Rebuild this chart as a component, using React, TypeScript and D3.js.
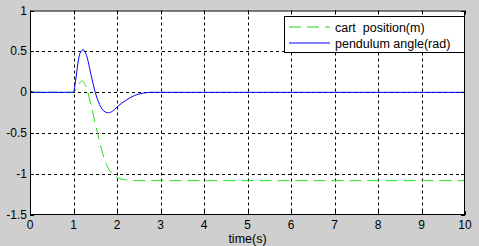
import { useEffect, useRef } from "react";
import * as d3 from "d3";

const W = 479;
const H = 246;
const MARGIN = { top: 10.5, right: 14, bottom: 31, left: 30 };

const xTicks = [0, 1, 2, 3, 4, 5, 6, 7, 8, 9, 10];
const yTicks = [-1.5, -1, -0.5, 0, 0.5, 1];

// pendulum angle (rad)
const pendTime = [0, 0.1, 0.3, 0.6, 0.9, 1.0, 1.05, 1.1, 1.15, 1.22, 1.3, 1.4, 1.5, 1.6, 1.7, 1.8, 1.9, 2.0, 2.2, 2.4, 2.6, 2.8, 4, 6, 8, 10];
const pendValue = [0.02, 0.0, 0.0, 0.0, 0.0, 0.0, 0.15, 0.35, 0.48, 0.52, 0.45, 0.22, 0.0, -0.15, -0.23, -0.25, -0.23, -0.18, -0.1, -0.04, -0.01, 0, 0, 0, 0, 0];

// cart position (m)
const cartTime = [0, 0.1, 0.3, 0.6, 0.9, 1.0, 1.1, 1.2, 1.3, 1.4, 1.5, 1.6, 1.7, 1.8, 1.9, 2.0, 2.2, 2.5, 4, 6, 8, 10];
const cartValue = [0.02, 0.0, 0.0, 0.0, 0.0, 0.0, 0.08, 0.14, 0.05, -0.15, -0.38, -0.6, -0.8, -0.93, -1.0, -1.04, -1.07, -1.08, -1.08, -1.08, -1.08, -1.08];

const series = [
  { name: "cart  position(m)", t: cartTime, v: cartValue, color: "#22dd22", dash: "12,6" },
  { name: "pendulum angle(rad)", t: pendTime, v: pendValue, color: "#0000ff", dash: null },
];

const FONT = "Arial, 'Liberation Sans', sans-serif";

const App = () => {
  const ref = useRef(null);

  useEffect(() => {
    const svg = d3.select(ref.current);
    svg.selectAll("*").remove();

    const bw = W - MARGIN.left - MARGIN.right;
    const bh = H - MARGIN.top - MARGIN.bottom;

    const x = d3.scaleLinear().domain([0, 10]).range([MARGIN.left, MARGIN.left + bw]);
    const y = d3.scaleLinear().domain([-1.5, 1]).range([MARGIN.top + bh, MARGIN.top]);

    svg.append("rect").attr("width", W).attr("height", H).attr("fill", "#cfcfcf");
    svg
      .append("rect")
      .attr("x", MARGIN.left)
      .attr("y", MARGIN.top)
      .attr("width", bw)
      .attr("height", bh)
      .attr("fill", "#ffffff");

    // grid
    const grid = svg.append("g").attr("stroke", "#000").attr("stroke-width", 1).attr("stroke-dasharray", "3,3");
    xTicks.slice(1, -1).forEach((t) => {
      grid
        .append("line")
        .attr("x1", Math.round(x(t)) + 0.5)
        .attr("x2", Math.round(x(t)) + 0.5)
        .attr("y1", MARGIN.top)
        .attr("y2", MARGIN.top + bh);
    });
    yTicks.slice(1, -1).forEach((t) => {
      grid
        .append("line")
        .attr("x1", MARGIN.left)
        .attr("x2", MARGIN.left + bw)
        .attr("y1", Math.round(y(t)) + 0.5)
        .attr("y2", Math.round(y(t)) + 0.5);
    });

    // lines
    const plot = svg.append("g");
    series.forEach((s) => {
      const pts = s.t.map((t, i) => [t, s.v[i]] as [number, number]);
      const line = d3
        .line<[number, number]>()
        .x((d) => x(d[0]))
        .y((d) => y(d[1]))
        .curve(d3.curveMonotoneX);
      const p = plot
        .append("path")
        .attr("d", line(pts))
        .attr("fill", "none")
        .attr("stroke", s.color)
        .attr("stroke-width", 1);
      if (s.dash) p.attr("stroke-dasharray", s.dash);
    });

    // box
    svg
      .append("rect")
      .attr("x", MARGIN.left + 0.5)
      .attr("y", MARGIN.top + 0.5)
      .attr("width", bw - 1)
      .attr("height", bh - 1)
      .attr("fill", "none")
      .attr("stroke", "#000");

    // ticks inside
    const tk = svg.append("g").attr("stroke", "#000");
    xTicks.forEach((t) => {
      const px = Math.round(x(t)) + 0.5;
      tk.append("line").attr("x1", px).attr("x2", px).attr("y1", MARGIN.top + bh).attr("y2", MARGIN.top + bh - 4);
      tk.append("line").attr("x1", px).attr("x2", px).attr("y1", MARGIN.top).attr("y2", MARGIN.top + 4);
    });
    yTicks.forEach((t) => {
      const py = Math.round(y(t)) + 0.5;
      tk.append("line").attr("x1", MARGIN.left).attr("x2", MARGIN.left + 4).attr("y1", py).attr("y2", py);
      tk.append("line").attr("x1", MARGIN.left + bw).attr("x2", MARGIN.left + bw - 4).attr("y1", py).attr("y2", py);
    });

    // tick labels
    svg
      .append("g")
      .selectAll("text")
      .data(xTicks)
      .join("text")
      .attr("x", (d) => x(d))
      .attr("y", MARGIN.top + bh + 14)
      .attr("text-anchor", "middle")
      .attr("font-family", FONT)
      .attr("font-size", 12)
      .attr("fill", "#000")
      .text((d) => d);

    svg
      .append("g")
      .selectAll("text")
      .data(yTicks)
      .join("text")
      .attr("x", MARGIN.left - 3)
      .attr("y", (d) => y(d) + 4)
      .attr("text-anchor", "end")
      .attr("font-family", FONT)
      .attr("font-size", 12)
      .attr("fill", "#000")
      .text((d) => d);

    svg
      .append("text")
      .attr("x", MARGIN.left + bw / 2)
      .attr("y", H - 3)
      .attr("text-anchor", "middle")
      .attr("font-family", FONT)
      .attr("font-size", 12.5)
      .attr("fill", "#000")
      .text("time(s)");

    // legend
    const lg = svg.append("g").attr("transform", "translate(284,16)");
    lg.append("rect")
      .attr("x", 0.5)
      .attr("y", 0.5)
      .attr("width", 180)
      .attr("height", 36)
      .attr("fill", "#fff")
      .attr("stroke", "#000");
    series.forEach((s, i) => {
      const yy = 11 + i * 16;
      const l = lg
        .append("line")
        .attr("x1", 5)
        .attr("x2", 46)
        .attr("y1", yy)
        .attr("y2", yy)
        .attr("stroke", s.color);
      if (s.dash) l.attr("stroke-dasharray", s.dash);
      lg.append("text")
        .attr("x", 51)
        .attr("y", yy + 4.5)
        .attr("font-family", FONT)
        .attr("font-size", 12.5)
        .attr("fill", "#000")
        .style("white-space", "pre")
        .text(s.name);
    });
  }, []);

  return (
    <svg
      ref={ref}
      width={W}
      height={H}
      style={{ display: "block", position: "absolute", left: 0, top: 0 }}
    />
  );
};

export default App;
